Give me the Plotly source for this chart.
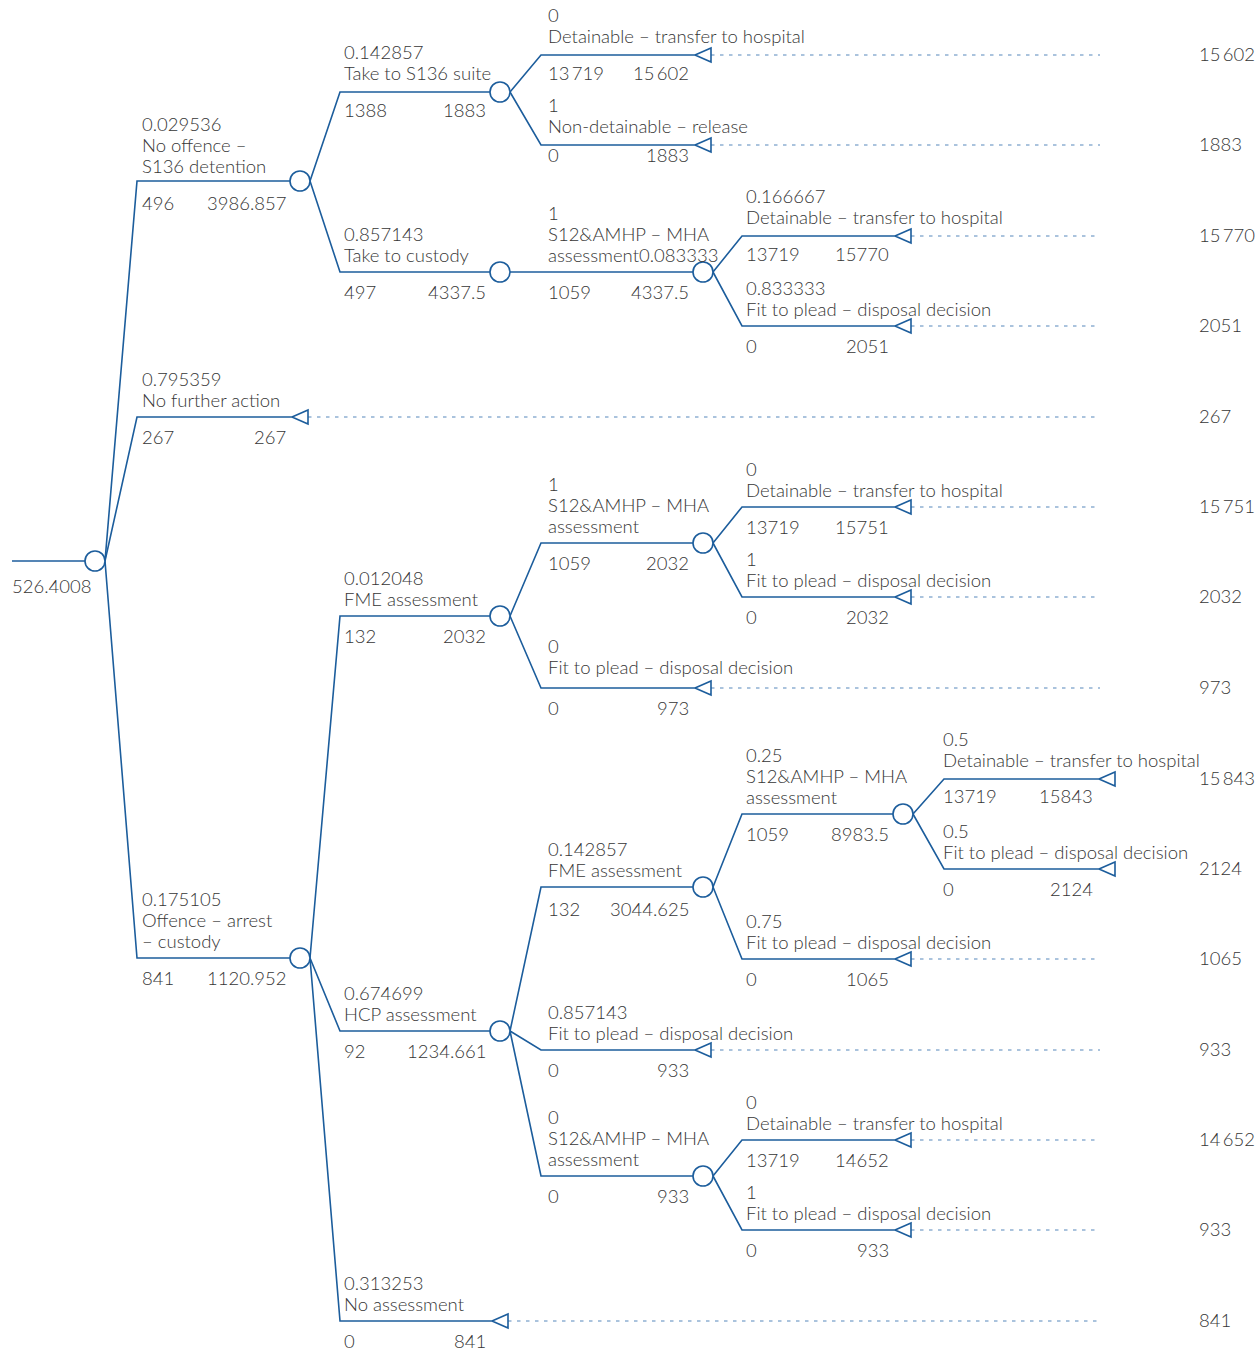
import plotly.graph_objects as go

# ---------------- data ----------------
node_parent = [None, 0, 1, 2, 2, 1, 5, 6, 6, 0, 0, 10, 11, 12, 12, 11, 10, 16, 17, 18, 18, 17,
               16, 16, 23, 23, 10]
node_prob = ["", "0.029536", "0.142857", "0", "1", "0.857143", "1", "0.166667", "0.833333",
             "0.795359", "0.175105", "0.012048", "1", "0", "1", "0", "0.674699", "0.142857",
             "0.25", "0.5", "0.5", "0.75", "0.857143", "0", "0", "1", "0.313253"]
DET = "Detainable \u2013 transfer to hospital"
FIT = "Fit to plead \u2013 disposal decision"
S12 = ["S12&AMHP \u2013 MHA", "assessment"]
node_name = [[], ["No offence \u2013", "S136 detention"], ["Take to S136 suite"], [DET],
             ["Non-detainable \u2013 release"], ["Take to custody"],
             ["S12&AMHP \u2013 MHA", "assessment0.083333"], [DET], [FIT],
             ["No further action"], ["Offence \u2013 arrest", "\u2013 custody"], ["FME assessment"],
             S12, [DET], [FIT], [FIT], ["HCP assessment"], ["FME assessment"], S12, [DET], [FIT],
             [FIT], [FIT], S12, [DET], [FIT], ["No assessment"]]
node_cost = ["", "496", "1388", "13\u2009719", "0", "497", "1059", "13719", "0", "267", "841", "132",
             "1059", "13719", "0", "0", "92", "132", "1059", "13719", "0", "0", "0", "0", "13719",
             "0", "0"]
node_value = ["526.4008", "3986.857", "1883", "15\u2009602", "1883", "4337.5", "4337.5", "15770",
              "2051", "267", "1120.952", "2032", "2032", "15751", "2032", "973", "1234.661",
              "3044.625", "8983.5", "15843", "2124", "1065", "933", "933", "14652", "933", "841"]
terminal_payoff = [None, None, None, "15\u2009602", "1883", None, None, "15\u2009770", "2051", "267",
                   None, None, None, "15\u2009751", "2032", "973", None, None, None, "15\u2009843",
                   "2124", "1065", "933", None, "14\u2009652", "933", "841"]

# ---------------- layout (positions in page pixels) ----------------
node_y = [561, 181, 92, 55, 145, 272, 272, 236, 326, 417, 958, 616, 543, 507, 597, 688,
          1031, 887, 814, 779, 869, 959, 1050, 1176, 1140, 1230, 1321]
BRANCH_X0 = [None, 137, 340, 541, 742, 944]
TEXT_X = [10, 140, 342, 546, 744, 941]
NODE_X = [95, 300, 500, 703, 903, 1107]
DOT_END = 1100
PAYOFF_X = 1197
ABOVE = -17
BELOW = 20
above_override = {1: -15, 2: -19, 3: -19, 4: -19, 7: -19, 15: -21, 19: -19}
below_override = {1: 22, 2: 18, 3: 18, 4: 10, 7: 18, 19: 17, 17: 22}

W, H = 1260, 1351
LINE = "#1c5d9c"
DOTC = "#8fb0d2"
TXT = "#363636"
FONT = "Lato"
FS = 18.5
R = 10

depth = [0] * len(node_parent)
for i, p in enumerate(node_parent):
    if p is not None:
        depth[i] = depth[p] + 1

fig = go.Figure()
lx, ly = [], []
dx, dy = [], []
circ_x, circ_y = [], []
ann = []


def text(x, y, s, anchor="left"):
    ann.append(dict(x=x, y=y, text=s, xanchor=anchor, yanchor="middle", showarrow=False,
                    font=dict(family=FONT, size=FS, color=TXT, weight=300)))


# root
lx += [12, NODE_X[0] - R, None]
ly += [node_y[0], node_y[0], None]
circ_x.append(NODE_X[0]); circ_y.append(node_y[0])
text(TEXT_X[0], node_y[0] + 25, node_value[0])

for i in range(1, len(node_parent)):
    p = node_parent[i]
    d = depth[i]
    y = node_y[i]
    x0 = BRANCH_X0[d]
    xn = NODE_X[d]
    terminal = terminal_payoff[i] is not None
    xend = xn - 8 if terminal else xn - R
    lx += [NODE_X[d - 1] + R, x0, xend, None]
    ly += [node_y[p], y, y, None]
    if terminal:
        tb = xn + 8
        lx += [xend, tb, tb, xend, None]
        ly += [y, y - 7, y + 7, y, None]
        if tb < DOT_END:
            dx += [tb, DOT_END, None]
            dy += [y, y, None]
        text(PAYOFF_X, y - 1, terminal_payoff[i], "left")
    else:
        circ_x.append(xn); circ_y.append(y)
    lines = [node_prob[i]] + node_name[i]
    n = len(lines)
    a = above_override.get(i, ABOVE)
    for k, s in enumerate(lines):
        text(TEXT_X[d], y + a - 21 * (n - 1 - k), s)
    off = below_override.get(i, BELOW)
    text(TEXT_X[d], y + off, node_cost[i])
    text(xn - 12, y + off, node_value[i], "right")

fig.add_trace(go.Scatter(x=dx, y=dy, mode="lines", hoverinfo="skip",
                         line=dict(color=DOTC, width=1.5, dash="3.5px,5.5px")))
fig.add_trace(go.Scatter(x=lx, y=ly, mode="lines", hoverinfo="skip", fill="none",
                         line=dict(color=LINE, width=1.6)))
fig.add_trace(go.Scatter(x=circ_x, y=circ_y, mode="markers", hoverinfo="skip",
                         marker=dict(symbol="circle", size=2 * R, color="white",
                                     line=dict(color=LINE, width=1.6))))

fig.update_layout(
    width=W, height=H, margin=dict(l=0, r=0, t=0, b=0),
    paper_bgcolor="white", plot_bgcolor="white", showlegend=False,
    xaxis=dict(range=[0, W], visible=False, fixedrange=True),
    yaxis=dict(range=[H, 0], visible=False, fixedrange=True),
    annotations=ann,
)
fig.write_html("out.html", config={"displayModeBar": False},
               post_script="document.body.style.margin='0';document.body.style.overflow='hidden';")
